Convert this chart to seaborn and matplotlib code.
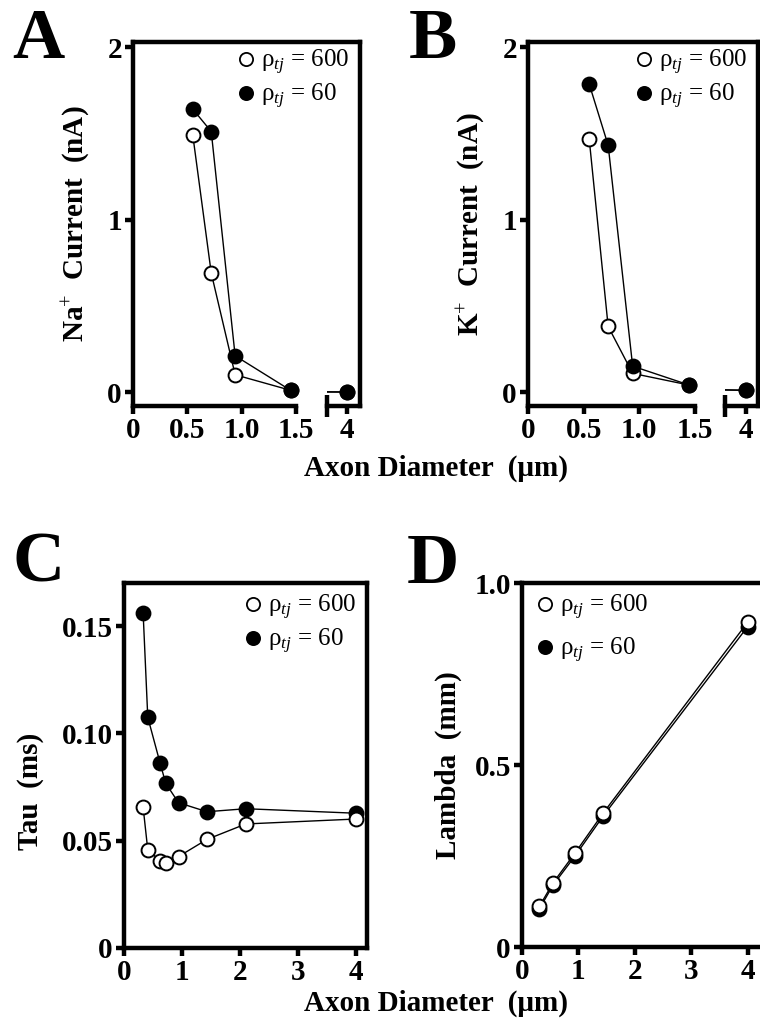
import numpy as np
import pandas as pd
import matplotlib
matplotlib.use("Agg")
import matplotlib.pyplot as plt
import seaborn as sns
from matplotlib.lines import Line2D

# ---------------- data ----------------
diam_ab = [0.55, 0.72, 0.94, 1.45, 4.0]
na_600 = [1.49, 0.69, 0.10, 0.01, 0.00]
na_60 = [1.64, 1.51, 0.21, 0.01, 0.00]
k_600 = [1.465, 0.38, 0.108, 0.04, 0.01]
k_60 = [1.785, 1.43, 0.15, 0.04, 0.01]

diam_tau = [0.33, 0.41, 0.62, 0.72, 0.94, 1.43, 2.10, 4.0]
tau_600 = [0.0655, 0.0457, 0.0407, 0.0394, 0.0426, 0.0506, 0.0578, 0.0601]
tau_60 = [0.156, 0.1075, 0.0864, 0.0767, 0.0677, 0.0635, 0.0649, 0.0628]

diam_lam = [0.31, 0.55, 0.94, 1.44, 4.0]
lam_600 = [0.112, 0.176, 0.258, 0.368, 0.892]
lam_60 = [0.105, 0.170, 0.250, 0.360, 0.880]

series_labels = ["\u03c1$_{tj}$ = 600", "\u03c1$_{tj}$ = 60"]
xlabel = "Axon Diameter  (\u03bcm)"

ab_xticks = [0, 0.5, 1.0, 1.5]
ab_xticklabels = ["0", "0.5", "1.0", "1.5"]
ab_yticks = [0, 1, 2]
cd_xticks = [0, 1, 2, 3, 4]
c_yticks = [0, 0.05, 0.10, 0.15]
c_yticklabels = ["0", "0.05", "0.10", "0.15"]
d_yticks = [0, 0.5, 1.0]
d_yticklabels = ["0", "0.5", "1.0"]

# ---------------- style ----------------
sns.set_theme(style="ticks")
plt.rcParams["font.family"] = ["Liberation Serif", "DejaVu Serif"]
plt.rcParams["mathtext.fontset"] = "custom"
plt.rcParams["mathtext.rm"] = "Liberation Serif"
plt.rcParams["mathtext.it"] = "Liberation Serif:italic"
plt.rcParams["mathtext.bf"] = "Liberation Serif:bold"
for k in ("text.color", "axes.labelcolor", "xtick.color", "ytick.color", "axes.edgecolor"):
    plt.rcParams[k] = "black"

W, H = 760, 1028
fig = plt.figure(figsize=(W / 100, H / 100), dpi=100)

SPW = 3.2
TICKLEN = 6
TLS = 21
LABS = 21
MS = 10
MEW = 1.4


def rect(l, r, t, b):
    return [l / W, 1 - b / H, (r - l) / W, (b - t) / H]


def style_ticks(ax):
    ax.tick_params(axis="both", which="major", direction="out", length=TICKLEN,
                   width=SPW, color="black", labelsize=TLS, pad=2,
                   labelcolor="black")
    for s in ax.spines.values():
        s.set_linewidth(SPW)
        s.set_color("black")
    ax.patch.set_alpha(0)


def draw(ax, x, y, face, z, clip=True):
    sns.lineplot(x=x, y=y, ax=ax, color="black", linewidth=1.0, marker="o",
                 markersize=MS, markerfacecolor=face, markeredgecolor="black",
                 markeredgewidth=MEW, zorder=z, clip_on=clip, sort=False,
                 estimator=None)


def add_legend(ax, anchor, loc, spacing=0.2):
    handles = [Line2D([], [], linestyle="none", marker="o", markersize=9.5,
                      markerfacecolor=f, markeredgecolor="black", markeredgewidth=1.3)
               for f in ("white", "black")]
    ax.legend(handles, series_labels, loc=loc, bbox_to_anchor=anchor,
              frameon=False, prop={"family": "Liberation Serif", "size": 18},
              handlelength=0.6, handletextpad=0.3, labelspacing=spacing,
              borderpad=0, borderaxespad=0)


def bold_ticks(ax, axis, ticks, labels):
    if axis == "x":
        ax.set_xticks(ticks, labels, fontweight="bold", fontsize=TLS)
    else:
        ax.set_yticks(ticks, labels, fontweight="bold", fontsize=TLS)


def cap_tick(ax, pos):
    ax.set_xticks([pos], minor=True)
    ax.tick_params(axis="x", which="minor", direction="inout",
                   length=2 * TICKLEN + 4, width=SPW, color="black")


def broken_panel(l, brk, r2l, r, tick4, t, b, xs, y600, y60, ylabel, ylabx):
    ylim = (-0.081, 2.029)
    scale = (brk - l) / 1.5
    # frame carrying the continuous top spine
    ax0 = fig.add_axes(rect(l, r, t, b))
    style_ticks(ax0)
    for k in ("left", "right", "bottom"):
        ax0.spines[k].set_visible(False)
    ax0.set_xticks([])
    ax0.set_yticks([])
    ax0.set_ylim(*ylim)

    xs = np.asarray(xs)
    y600 = np.asarray(y600)
    y60 = np.asarray(y60)
    m = xs <= 1.5

    # left segment 0 - 1.5
    ax1 = fig.add_axes(rect(l, brk, t, b))
    style_ticks(ax1)
    ax1.spines["top"].set_visible(False)
    ax1.spines["right"].set_visible(False)
    draw(ax1, xs[m], y600[m], "white", 3, clip=False)
    draw(ax1, xs[m], y60[m], "black", 4, clip=False)
    ax1.set_xlim(0, 1.5)
    ax1.set_ylim(*ylim)
    bold_ticks(ax1, "x", ab_xticks, ab_xticklabels)
    bold_ticks(ax1, "y", ab_yticks, [str(v) for v in ab_yticks])
    cap_tick(ax1, 1.5)
    ax1.set_xlabel("")
    ax1.set_ylabel(ylabel, fontsize=LABS, fontweight="bold")
    ax1.yaxis.set_label_coords(ylabx, 0.5)

    # right segment around 4
    lo = 4 - (tick4 - r2l) / scale
    ax2 = fig.add_axes(rect(r2l, r, t, b))
    style_ticks(ax2)
    ax2.spines["left"].set_visible(False)
    ax2.spines["top"].set_visible(False)
    draw(ax2, xs, y600, "white", 3)
    draw(ax2, xs, y60, "black", 4)
    ax2.set_xlim(lo, lo + (r - r2l) / scale)
    ax2.set_ylim(*ylim)
    bold_ticks(ax2, "x", [4], ["4"])
    ax2.set_yticks([])
    cap_tick(ax2, lo)
    ax2.set_xlabel("")
    ax2.set_ylabel("")
    return ax0


# ---------- Panels A and B ----------
axA = broken_panel(133, 296, 327, 360, 347, 42, 406, diam_ab, na_600, na_60,
                   "Na$^{+}$  Current  (nA)", -0.25)
add_legend(axA, ((349 - 133) / 227, 1 - (48 - 42) / 364), "upper right")

axB = broken_panel(528, 695, 725, 758, 746, 42, 406, diam_ab, k_600, k_60,
                   "K$^{+}$  Current  (nA)", -0.245)
add_legend(axB, ((747 - 528) / 230, 1 - (48 - 42) / 364), "upper right")

# ---------- Panel C ----------
axC = fig.add_axes(rect(124, 367, 583, 948))
style_ticks(axC)
draw(axC, diam_tau, tau_60, "black", 3)
draw(axC, diam_tau, tau_600, "white", 4)
axC.set_xlim(0, (367 - 124) / 58)
axC.set_ylim(0, (948 - 583) / 2146)
bold_ticks(axC, "x", cd_xticks, [str(v) for v in cd_xticks])
bold_ticks(axC, "y", c_yticks, c_yticklabels)
axC.set_xlabel("")
axC.set_ylabel("Tau  (ms)", fontsize=LABS, fontweight="bold")
axC.yaxis.set_label_coords(-0.33, 0.43)
add_legend(axC, ((356 - 124) / 243, 1 - (593 - 583) / 365), "upper right")

# ---------- Panel D ----------
axD = fig.add_axes(rect(522, 767, 583, 947))
style_ticks(axD)
draw(axD, diam_lam, lam_60, "black", 3)
draw(axD, diam_lam, lam_600, "white", 4)
axD.set_xlim(0, (767 - 522) / 56.4)
axD.set_ylim(0, 1.0)
bold_ticks(axD, "x", cd_xticks, [str(v) for v in cd_xticks])
bold_ticks(axD, "y", d_yticks, d_yticklabels)
axD.set_xlabel("")
axD.set_ylabel("Lambda  (mm)", fontsize=LABS, fontweight="bold")
axD.yaxis.set_label_coords(-0.245, 0.5)
add_legend(axD, ((537 - 522) / 245, 1 - (593 - 583) / 364), "upper left", spacing=0.55)

# ---------- shared labels and panel letters ----------
for yy in (468, 1003):
    fig.text(436 / W, 1 - yy / H, xlabel, ha="center", va="center",
             fontsize=LABS, fontweight="bold")

for letter, xx, yy in (("A", 12, 58), ("B", 409, 58), ("C", 12, 582), ("D", 407, 583)):
    fig.text(xx / W, 1 - yy / H, letter, ha="left", va="baseline",
             fontsize=52, fontweight="bold")

fig.savefig("out.png", dpi=100)
